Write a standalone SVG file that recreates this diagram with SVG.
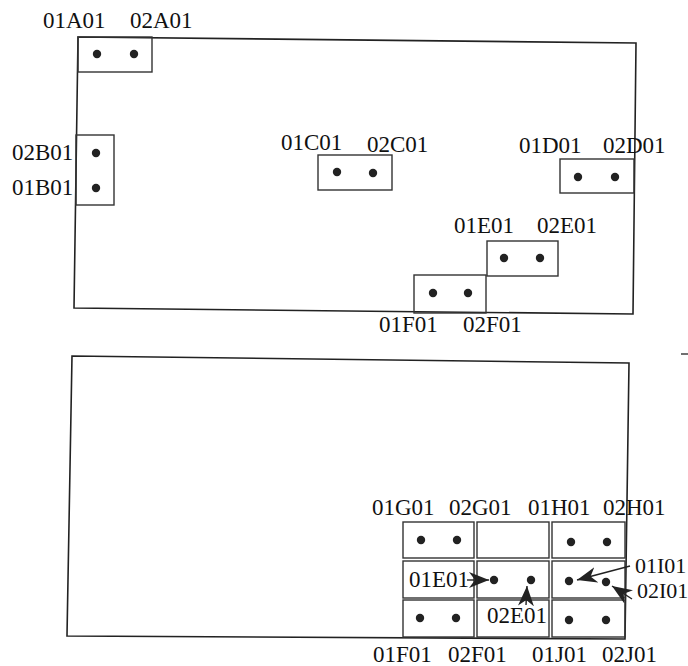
<svg xmlns="http://www.w3.org/2000/svg" width="688" height="666" viewBox="0 0 688 666">
<style>
.o{fill:none;stroke:#222;stroke-width:1.6}
.b{fill:none;stroke:#333;stroke-width:1.4}
.d{fill:#222}
text{font-family:"Liberation Serif","Times New Roman",serif;font-size:23px;fill:#111}
.s{font-size:22px}
.c{stroke:#222;stroke-width:1.4;fill:none}
</style>
<defs>
<marker id="ah" markerUnits="userSpaceOnUse" markerWidth="20" markerHeight="16" refX="20" refY="8" orient="auto">
<path d="M0,0 L20,8 L0,16 L6,8 z" fill="#222"/>
</marker>
</defs>
<rect width="688" height="666" fill="#fff"/>
<g id="board-top">
<polygon class="o" points="78,37 636,43 633,314 74,308"/>
</g>
<g id="A01">
<rect class="b" x="78" y="37" width="74" height="35"/>
<circle class="d" cx="97" cy="54" r="4.2"/><circle class="d" cx="134" cy="54" r="4.2"/>
<text x="43" y="28">01A01</text><text x="130" y="28">02A01</text>
</g>
<g id="B01">
<rect class="b" x="76" y="135" width="38" height="70"/>
<circle class="d" cx="96" cy="153" r="4.2"/><circle class="d" cx="96" cy="188" r="4.2"/>
<text x="12" y="160">02B01</text><text x="12" y="195">01B01</text>
</g>
<g id="C01">
<rect class="b" x="318" y="155" width="74" height="35"/>
<circle class="d" cx="337" cy="172" r="4.2"/><circle class="d" cx="373" cy="173" r="4.2"/>
<text x="281" y="150">01C01</text><text x="367" y="152">02C01</text>
</g>
<g id="D01">
<rect class="b" x="560" y="159" width="74" height="34"/>
<circle class="d" cx="578" cy="177" r="4.2"/><circle class="d" cx="615" cy="177" r="4.2"/>
<text x="519" y="153">01D01</text><text x="603" y="153">02D01</text>
</g>
<g id="E01-top">
<rect class="b" x="487" y="241" width="71" height="35"/>
<circle class="d" cx="504" cy="258" r="4.2"/><circle class="d" cx="540" cy="258" r="4.2"/>
<text x="454" y="233">01E01</text><text x="537" y="233">02E01</text>
</g>
<g id="F01-top">
<rect class="b" x="414" y="275" width="72" height="38"/>
<circle class="d" cx="433" cy="293" r="4.2"/><circle class="d" cx="468" cy="293" r="4.2"/>
<text x="379" y="332">01F01</text><text x="463" y="332">02F01</text>
</g>
<g id="board-bottom">
<polygon class="o" points="72,356 629,363 625,639 67,636"/>
<line class="b" x1="681" y1="354" x2="688" y2="354"/>
</g>
<g id="G01">
<rect class="b" x="403" y="522" width="71" height="36"/>
<circle class="d" cx="421" cy="540" r="4.2"/><circle class="d" cx="457" cy="540" r="4.2"/>
<text x="372" y="515">01G01</text><text x="449" y="515">02G01</text>
</g>
<g id="empty-cell">
<rect class="b" x="477" y="522" width="72" height="36"/>
</g>
<g id="H01">
<rect class="b" x="552" y="522" width="73" height="36"/>
<circle class="d" cx="571" cy="542" r="4.2"/><circle class="d" cx="607" cy="542" r="4.2"/>
<text x="528" y="515">01H01</text><text x="603" y="515">02H01</text>
</g>
<g id="E01-label-cell">
<rect class="b" x="403" y="561" width="71" height="37"/>
<text x="409" y="587">01E01</text>
</g>
<g id="E01-bottom">
<rect class="b" x="477" y="561" width="72" height="37"/>
<circle class="d" cx="494" cy="580" r="4.2"/><circle class="d" cx="531" cy="580" r="4.2"/>
</g>
<g id="I01">
<rect class="b" x="552" y="561" width="73" height="37"/>
<circle class="d" cx="569" cy="581" r="4.2"/><circle class="d" cx="606" cy="582" r="4.2"/>
<text class="s" x="635" y="573">01I01</text><text class="s" x="637" y="598">02I01</text>
</g>
<g id="F01-bottom">
<rect class="b" x="403" y="600" width="71" height="37"/>
<circle class="d" cx="420" cy="618" r="4.2"/><circle class="d" cx="456" cy="618" r="4.2"/>
<text x="373" y="662">01F01</text><text x="448" y="662">02F01</text>
</g>
<g id="E01-label2-cell">
<rect class="b" x="477" y="600" width="72" height="37"/>
<text x="487" y="623">02E01</text>
</g>
<g id="J01">
<rect class="b" x="552" y="600" width="73" height="37"/>
<circle class="d" cx="569" cy="620" r="4.2"/><circle class="d" cx="606" cy="620" r="4.2"/>
<text x="532" y="662">01J01</text><text x="602" y="662">02J01</text>
</g>
<g id="connectors">
<line class="c" x1="467" y1="580" x2="489" y2="580" marker-end="url(#ah)"/>
<line class="c" x1="526" y1="605" x2="527" y2="586" marker-end="url(#ah)"/>
<line class="c" x1="630" y1="566" x2="577" y2="580" marker-end="url(#ah)"/>
<line class="c" x1="632" y1="599" x2="612" y2="586" marker-end="url(#ah)"/>
</g>
</svg>
